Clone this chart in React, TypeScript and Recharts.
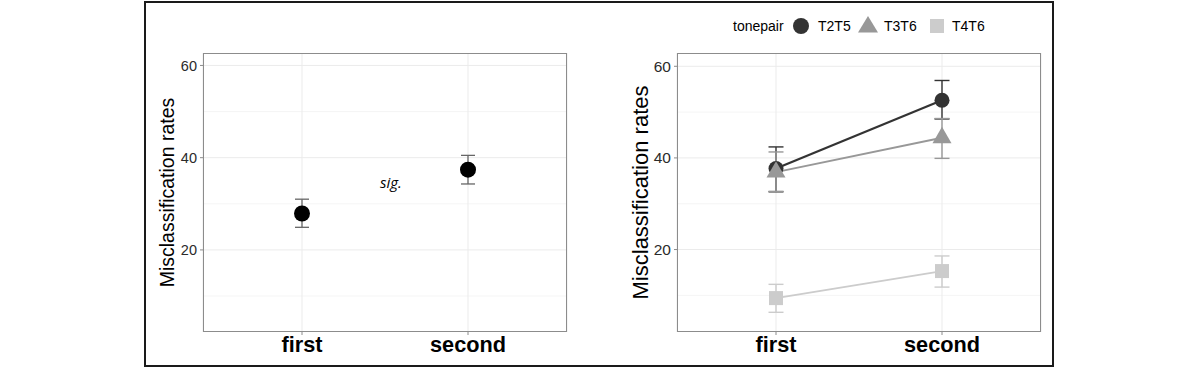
import React from "react"
import { ComposedChart, Line, XAxis, YAxis, CartesianGrid, ErrorBar } from "recharts"

// categories + tick values
const phases = ["first", "second"]
const majorTicks = [20, 40, 60]
const minorTicks = [10, 30, 50]

// left panel: all tone pairs pooled
const overallMean = [27.9, 37.4]
const overallLow = [24.9, 34.3]
const overallHigh = [31.0, 40.5]

// right panel: by tone pair
const tonepairs = ["T2T5", "T3T6", "T4T6"]
const t2t5Mean = [37.7, 52.6]
const t2t5Low = [32.6, 48.5]
const t2t5High = [42.4, 56.9]
const t3t6Mean = [36.9, 44.4]
const t3t6Low = [32.7, 39.9]
const t3t6High = [41.3, 48.6]
const t4t6Mean = [9.4, 15.3]
const t4t6Low = [6.3, 11.8]
const t4t6High = [12.4, 18.6]

const FONT = '"Liberation Sans", Arial, sans-serif'
const GRID = "#ebebeb"
const BORDER = "#8c8c8c"
const pairColors = ["#333333", "#989898", "#cccccc"]

const PLOT_W = 364
const PLOT_TOP = 53
const X_AXIS_H = 30
const CHART_H = 368
const BOTTOM = 6

const errOf = (m: number, lo: number, hi: number) => [m - lo, hi - m]

const leftData = phases.map((phase, i) => ({
    phase,
    mean: overallMean[i],
    err: errOf(overallMean[i], overallLow[i], overallHigh[i]),
}))

const pairMeans = [t2t5Mean, t3t6Mean, t4t6Mean]
const pairLows = [t2t5Low, t3t6Low, t4t6Low]
const pairHighs = [t2t5High, t3t6High, t4t6High]

const rightData = phases.map((phase, i) => {
    const row: any = { phase }
    tonepairs.forEach((tp, k) => {
        row[tp] = pairMeans[k][i]
        row[tp + "_err"] = errOf(pairMeans[k][i], pairLows[k][i], pairHighs[k][i])
    })
    return row
})

// marker shapes
const circleDot = (r: number, fill: string) => (p: any) =>
    <circle key={`c-${p.dataKey}-${p.index}`} cx={p.cx} cy={p.cy} r={r} fill={fill} />
const triangleDot = (s: number, fill: string) => (p: any) => {
    const h = s * 0.866
    return <polygon key={`t-${p.dataKey}-${p.index}`} fill={fill}
        points={`${p.cx},${p.cy - (2 * h) / 3} ${p.cx - s / 2},${p.cy + h / 3} ${p.cx + s / 2},${p.cy + h / 3}`} />
}
const squareDot = (s: number, fill: string) => (p: any) =>
    <rect key={`s-${p.dataKey}-${p.index}`} x={p.cx - s / 2} y={p.cy - s / 2} width={s} height={s} fill={fill} />

const pairDots = [circleDot(7.5, pairColors[0]), triangleDot(19, pairColors[1]), squareDot(14, pairColors[2])]

const yTitle = (dx: number, size: number) => (props: any) => {
    const vb = props.viewBox || { x: 0, y: 0, height: 0 }
    const cx = vb.x + dx
    const cy = vb.y + vb.height / 2
    return (
        <text x={cx} y={cy} transform={`rotate(-90 ${cx} ${cy})`} textAnchor="middle"
            dominantBaseline="central" fontSize={size} fontFamily={FONT} fill="#000">
            Misclassification rates
        </text>
    )
}

const xTick = { fontSize: 21.7, fontWeight: "bold", fill: "#000", fontFamily: FONT }

function Panel({ data, domain, yWidth, titleX, titleSize, tickSize, children }: any) {
    return (
        <div style={{ position: "relative", width: yWidth + PLOT_W + 10, height: CHART_H }}>
            <ComposedChart width={yWidth + PLOT_W + 10} height={CHART_H} data={data}
                margin={{ top: PLOT_TOP, right: 10, bottom: BOTTOM, left: 0 }}>
                <CartesianGrid horizontalValues={minorTicks} vertical={false} stroke="#f3f3f3" strokeWidth={0.8} />
                <CartesianGrid horizontalValues={majorTicks} stroke={GRID} strokeWidth={1} />
                <XAxis dataKey="phase" type="category" scale="point" padding={{ left: 99, right: 99 }}
                    height={X_AXIS_H} tick={xTick} tickSize={3} tickMargin={2}
                    tickLine={{ stroke: BORDER }} axisLine={false} />
                <YAxis type="number" domain={domain} ticks={majorTicks} width={yWidth} allowDataOverflow
                    tick={{ fontSize: tickSize, fill: "#2b2b2b", fontFamily: FONT }} tickSize={3} tickMargin={3}
                    tickLine={{ stroke: BORDER }} axisLine={false}
                    label={yTitle(titleX, titleSize)} />
                {children}
            </ComposedChart>
            {/* panel border */}
            <div style={{
                position: "absolute", left: yWidth, top: PLOT_TOP, width: PLOT_W,
                height: CHART_H - PLOT_TOP - BOTTOM - X_AXIS_H, border: `1.3px solid ${BORDER}`,
                boxSizing: "border-box", pointerEvents: "none",
            }} />
        </div>
    )
}

export default function App() {
    return (
        <div style={{ position: "absolute", left: 0, top: 0, width: 1200, height: 372, background: "#fff", overflow: "hidden" }}>
            <div style={{ position: "absolute", left: 144, top: 1, width: 910, height: 366, border: "2px solid #1a1a1a", boxSizing: "border-box" }} />

            <div style={{ position: "absolute", left: 150, top: 0 }}>
                <Panel data={leftData} domain={[2.2, 62.7]} yWidth={53} titleX={17} titleSize={19.5} tickSize={14.5}>
                    <Line dataKey="mean" stroke="none" isAnimationActive={false} dot={circleDot(8, "#000")} activeDot={false}>
                        <ErrorBar dataKey="err" width={7} stroke="#666" strokeWidth={1.3} direction="y" />
                    </Line>
                </Panel>
            </div>
            <div style={{ position: "absolute", left: 380, top: 172, fontFamily: '"Open Sans", sans-serif', fontStyle: "italic", fontSize: 15, color: "#000" }}>
                sig.
            </div>

            <div style={{ position: "absolute", left: 600, top: 0 }}>
                <Panel data={rightData} domain={[2.0, 62.9]} yWidth={77} titleX={40} titleSize={22} tickSize={15.5}>
                    {tonepairs.map((tp, k) => (
                        <Line key={tp + "-err"} dataKey={tp} stroke="none" dot={false} activeDot={false} isAnimationActive={false}>
                            <ErrorBar dataKey={tp + "_err"} width={7.5} stroke={pairColors[k]} strokeWidth={1.4} direction="y" />
                        </Line>
                    ))}
                    {tonepairs.map((tp, k) => (
                        <Line key={tp} dataKey={tp} stroke={pairColors[k]} strokeWidth={k === 0 ? 2.2 : 1.9}
                            dot={pairDots[k]} activeDot={false} isAnimationActive={false} />
                    ))}
                </Panel>
            </div>

            <svg style={{ position: "absolute", left: 700, top: 10 }} width={320} height={32}>
                <text x={33} y={16} dominantBaseline="central" fontSize={14} fontFamily={FONT} fill="#000">tonepair</text>
                <circle cx={101} cy={16} r={8} fill={pairColors[0]} />
                <text x={118} y={16} dominantBaseline="central" fontSize={14} fontFamily={FONT} fill="#000">{tonepairs[0]}</text>
                <polygon points="168,6 158,22.5 178,22.5" fill={pairColors[1]} />
                <text x={184} y={16} dominantBaseline="central" fontSize={14} fontFamily={FONT} fill="#000">{tonepairs[1]}</text>
                <rect x={230} y={9} width={14} height={14} fill={pairColors[2]} />
                <text x={252} y={16} dominantBaseline="central" fontSize={14} fontFamily={FONT} fill="#000">{tonepairs[2]}</text>
            </svg>
        </div>
    )
}
